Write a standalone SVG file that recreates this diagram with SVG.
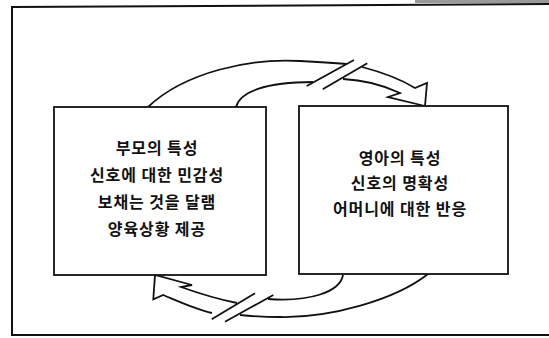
<svg xmlns="http://www.w3.org/2000/svg" width="549" height="338" viewBox="0 0 549 338">
<style>
.ln{fill:none;stroke:#111;stroke-width:1.8;stroke-linejoin:miter;stroke-linecap:butt}
.box{fill:#fff;stroke:#111;stroke-width:1.8}
.frame{fill:none;stroke:#111;stroke-width:2}
.t{font-family:"Noto Sans CJK KR","Noto Sans",sans-serif;font-weight:bold;font-size:16px;letter-spacing:0.9px;fill:#111;text-anchor:middle}
</style>
<rect width="549" height="338" fill="#fff"/>
<rect x="415" y="0" width="134" height="3" fill="#999"/>
<g id="frame">
<path class="frame" d="M560,4 L12,7 L12,335 L560,335"/>
</g>
<g id="connectors">
<path class="ln" d="M148,107 C185,72 250,58 300,61 C320,62 335,63 347,64"/>
<path class="ln" d="M236,107 C240,92 265,82 313,82"/>
<path class="ln" d="M306.7,86 L354,60"/>
<path class="ln" d="M322.7,89.3 L367.3,63.3"/>
<path class="ln" d="M362,67 C385,73 402,80 415,88 L427,83 L425,106 L388,97 L400,93 C385,86 365,80 343,79"/>
<path class="ln" d="M428,274 C395,300 330,318 280,317 C262,317 250,316 240,315"/>
<path class="ln" d="M343,275 C340,292 310,302 268,299"/>
<path class="ln" d="M211.7,319.3 L255,293.3"/>
<path class="ln" d="M225,321.7 L273.3,295"/>
<path class="ln" d="M237,303 C212,298 195,292 181,287 L192,285 L155,275 L153.3,299.3 L163.3,295 C180,302 195,309 212,313"/>
</g>
<g id="parent">
<rect class="box" x="54" y="107" width="212" height="168"/>
<text class="t" x="157" y="154">부모의 특성</text>
<text class="t" x="157" y="181">신호에 대한 민감성</text>
<text class="t" x="157" y="208">보채는 것을 달램</text>
<text class="t" x="157" y="235">양육상황 제공</text>
</g>
<g id="infant">
<rect class="box" x="299" y="106" width="209" height="168"/>
<text class="t" x="400" y="164">영아의 특성</text>
<text class="t" x="400" y="189">신호의 명확성</text>
<text class="t" x="400" y="215">어머니에 대한 반응</text>
</g>
</svg>
